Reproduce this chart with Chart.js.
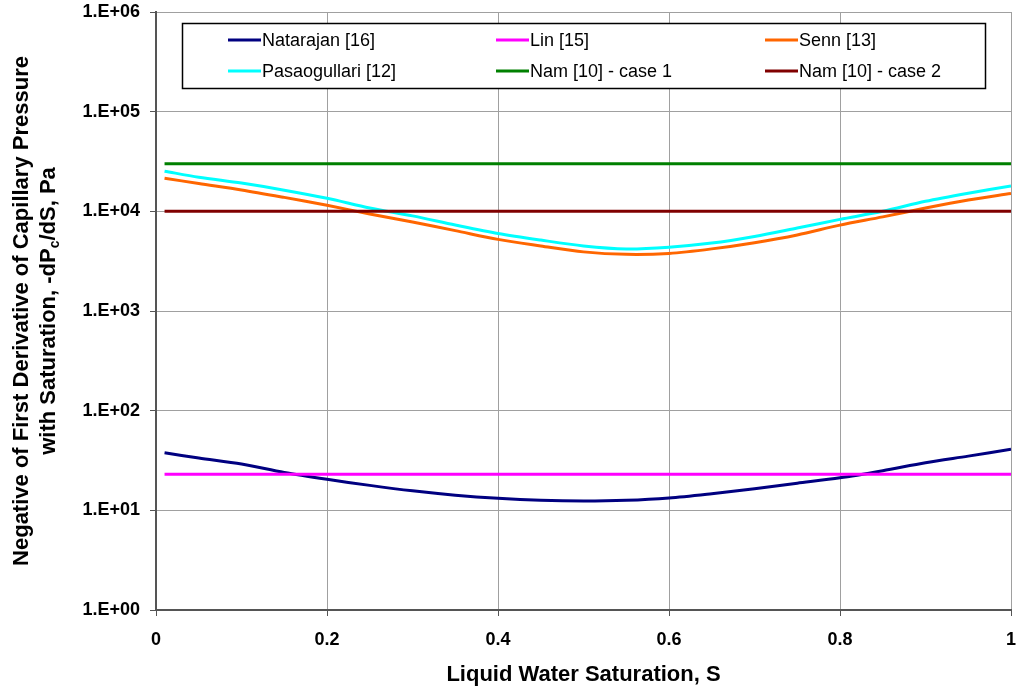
<!DOCTYPE html>
<html lang="en">
<head>
    <meta charset="UTF-8">
    <title>Capillary Pressure Derivative vs Saturation</title>
    <script src="https://cdn.jsdelivr.net/npm/chart.js"></script>
    <style>
        html, body { margin: 0; padding: 0; background: #fff; }
        canvas { display: block; }
    </style>
</head>
<body>
    <canvas id="pcChart" width="1017" height="688"></canvas>

    <script>
        // Saturation points used for the curved series
        const satS = [0.01, 0.05, 0.10, 0.15, 0.20, 0.25, 0.30, 0.35, 0.40, 0.45, 0.50,
                      0.55, 0.60, 0.65, 0.70, 0.75, 0.80, 0.85, 0.90, 0.95, 1.00];

        const natarajan = [37.8, 33.5, 29.2, 24.0, 20.5, 17.8, 15.7, 14.2, 13.2, 12.6, 12.4,
                           12.6, 13.3, 14.7, 16.5, 18.7, 21.2, 25.0, 30.0, 35.0, 41.0];
        const senn = [21500, 19000, 16400, 13800, 11500, 9400, 7800, 6400, 5230, 4500, 3920,
                      3700, 3780, 4200, 4850, 5800, 7270, 8800, 10800, 13000, 15100];
        const pasaogullari = [25300, 22000, 19200, 16300, 13500, 10800, 9000, 7300, 6000, 5150, 4500,
                              4200, 4370, 4800, 5600, 6800, 8300, 10000, 12600, 15200, 18000];

        // Constant series (two end points each)
        const constS = [0.01, 1.00];
        const lin = [23, 23];
        const namCase1 = [30000, 30000];
        const namCase2 = [10000, 10000];

        const yTicks = [1, 10, 100, 1000, 10000, 100000, 1000000];
        const yTickLabels = ['1.E+00', '1.E+01', '1.E+02', '1.E+03', '1.E+04', '1.E+05', '1.E+06'];
        const xTicks = [0, 0.2, 0.4, 0.6, 0.8, 1];
        const xTickLabels = ['0', '0.2', '0.4', '0.6', '0.8', '1'];

        const FONT = '"Liberation Sans", Arial, sans-serif';

        function pts(xs, ys) {
            return xs.map((x, i) => ({ x: x, y: ys[i] }));
        }

        function series(label, xs, ys, color, order) {
            return {
                label: label,
                data: pts(xs, ys),
                borderColor: color,
                backgroundColor: color,
                borderWidth: 3,
                pointRadius: 0,
                tension: 0.3,
                order: order
            };
        }

        // Legend box inside the plot, 3 columns x 2 rows
        const boxLegend = {
            id: 'boxLegend',
            afterDraw(chart) {
                const ctx = chart.ctx;
                const left = 182, top = 23, right = 985, bottom = 88;
                ctx.save();
                ctx.fillStyle = '#fff';
                ctx.fillRect(left, top, right - left, bottom - top);
                ctx.strokeStyle = '#000';
                ctx.lineWidth = 1.5;
                ctx.strokeRect(left + 0.5, top + 0.5, right - left, bottom - top);

                const colX = [228, 496, 765];
                const rowY = [40, 71];
                ctx.font = '18px ' + FONT;
                ctx.textBaseline = 'middle';
                ctx.textAlign = 'left';
                chart.data.datasets.forEach((ds, i) => {
                    const cx = colX[i % 3];
                    const cy = rowY[Math.floor(i / 3)];
                    ctx.strokeStyle = ds.borderColor;
                    ctx.lineWidth = 3;
                    ctx.beginPath();
                    ctx.moveTo(cx, cy);
                    ctx.lineTo(cx + 33, cy);
                    ctx.stroke();
                    ctx.fillStyle = '#000';
                    ctx.fillText(ds.label, cx + 34, cy + 1);
                });
                ctx.restore();
            }
        };

        // Two-line rotated y axis title with subscript c
        const yTitle = {
            id: 'yTitle',
            afterDraw(chart) {
                const ctx = chart.ctx;
                const area = chart.chartArea;
                const cy = (area.top + area.bottom) / 2;
                ctx.save();
                ctx.fillStyle = '#000';
                ctx.textBaseline = 'alphabetic';

                ctx.save();
                ctx.translate(28, cy);
                ctx.rotate(-Math.PI / 2);
                ctx.font = 'bold 22px ' + FONT;
                ctx.textAlign = 'center';
                ctx.fillText('Negative of First Derivative of Capillary Pressure', 0, 0);
                ctx.restore();

                ctx.save();
                ctx.translate(55, cy);
                ctx.rotate(-Math.PI / 2);
                ctx.textAlign = 'left';
                const a = 'with Saturation, -dP', sub = 'c', b = '/dS, Pa';
                ctx.font = 'bold 22px ' + FONT;
                const wa = ctx.measureText(a).width;
                const wb = ctx.measureText(b).width;
                ctx.font = 'bold 14px ' + FONT;
                const ws = ctx.measureText(sub).width;
                let x = -(wa + ws + wb) / 2;
                ctx.font = 'bold 22px ' + FONT;
                ctx.fillText(a, x, 0);
                x += wa;
                ctx.font = 'bold 14px ' + FONT;
                ctx.fillText(sub, x, 4);
                x += ws;
                ctx.font = 'bold 22px ' + FONT;
                ctx.fillText(b, x, 0);
                ctx.restore();

                ctx.restore();
            }
        };

        const ctx = document.getElementById('pcChart').getContext('2d');
        const pcChart = new Chart(ctx, {
            type: 'line',
            data: {
                datasets: [
                    series('Natarajan [16]', satS, natarajan, '#000080', 6),
                    series('Lin [15]', constS, lin, '#FF00FF', 5),
                    series('Senn [13]', satS, senn, '#FF6600', 4),
                    series('Pasaogullari [12]', satS, pasaogullari, '#00FFFF', 3),
                    series('Nam [10] - case 1', constS, namCase1, '#008000', 2),
                    series('Nam [10] - case 2', constS, namCase2, '#800000', 1)
                ]
            },
            options: {
                responsive: false,
                animation: false,
                layout: { padding: { left: 0, top: 12, right: 6, bottom: 0 } },
                plugins: {
                    legend: { display: false },
                    tooltip: { enabled: false }
                },
                scales: {
                    x: {
                        type: 'linear',
                        min: 0,
                        max: 1,
                        afterFit: s => {
                            s.height = 78;
                            s.paddingLeft = 0;
                            s.paddingRight = 0;
                        },
                        afterBuildTicks: s => { s.ticks = xTicks.map(v => ({ value: v })); },
                        ticks: {
                            callback: (v, i) => xTickLabels[i],
                            font: { family: FONT, size: 18, weight: 'bold' },
                            color: '#000',
                            padding: 13,
                            maxRotation: 0
                        },
                        grid: { color: '#a0a0a0', lineWidth: 1, tickLength: 6, tickColor: '#555' },
                        border: { color: '#555', width: 2 },
                        title: {
                            display: true,
                            text: 'Liquid Water Saturation, S',
                            font: { family: FONT, size: 22, weight: 'bold' },
                            color: '#000',
                            padding: { top: 0, bottom: 0 }
                        }
                    },
                    y: {
                        type: 'logarithmic',
                        min: 1,
                        max: 1000000,
                        afterFit: s => {
                            s.width = 156;
                            s.paddingTop = 0;
                            s.paddingBottom = 0;
                        },
                        afterBuildTicks: s => { s.ticks = yTicks.map(v => ({ value: v })); },
                        ticks: {
                            callback: (v, i) => yTickLabels[i],
                            font: { family: FONT, size: 18, weight: 'bold' },
                            color: '#000',
                            padding: 10
                        },
                        grid: { color: '#a0a0a0', lineWidth: 1, tickLength: 6, tickColor: '#555' },
                        border: { color: '#555', width: 2 }
                    }
                }
            },
            plugins: [boxLegend, yTitle]
        });
    </script>
</body>
</html>
